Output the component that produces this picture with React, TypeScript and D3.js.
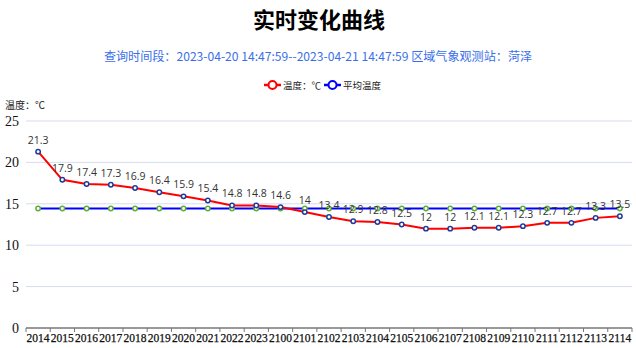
import React from 'react';
import * as d3 from 'd3';

const categories = [
  '2014', '2015', '2016', '2017', '2018', '2019', '2020', '2021', '2022', '2023',
  '2100', '2101', '2102', '2103', '2104', '2105', '2106', '2107', '2108', '2109',
  '2110', '2111', '2112', '2113', '2114',
];
const temps = [
  21.3, 17.9, 17.4, 17.3, 16.9, 16.4, 15.9, 15.4, 14.8, 14.8,
  14.6, 14, 13.4, 12.9, 12.8, 12.5, 12, 12, 12.1, 12.1,
  12.3, 12.7, 12.7, 13.3, 13.5,
];
const avgTemps = [
  14.44, 14.44, 14.44, 14.44, 14.44, 14.44, 14.44, 14.44, 14.44, 14.44,
  14.44, 14.44, 14.44, 14.44, 14.44, 14.44, 14.44, 14.44, 14.44, 14.44,
  14.44, 14.44, 14.44, 14.44, 14.44,
];
const yTicks = [0, 5, 10, 15, 20, 25];

const W = 636;
const H = 348;
const left = 26;
const right = 632;
const top = 121;
const bottom = 328;

const cjk = '"Noto Sans CJK SC", sans-serif';
const serif = '"Liberation Serif", "DejaVu Serif", serif';

export default function App() {
  const x = d3.scaleBand().domain(categories).range([left, right]);
  const y = d3.scaleLinear().domain([0, 25]).range([bottom, top]);
  const cx = (c: string) => (x(c) as number) + x.bandwidth() / 2;

  const line = d3.line<number>()
    .x((_, i) => cx(categories[i]))
    .y(d => y(d));

  return (
    <svg width={W} height={H} style={{ position: 'absolute', left: 0, top: 0, background: '#fff' }}>
      <text x={319} y={28} textAnchor="middle" fontFamily={cjk} fontWeight="bold" fontSize={22} fill="#000">
        实时变化曲线
      </text>
      <text x={318} y={61} textAnchor="middle" fontFamily={cjk} fontSize={12.1} fill="#3a6fe8">
        查询时间段：2023-04-20 14:47:59--2023-04-21 14:47:59 区域气象观测站：菏泽
      </text>

      {/* legend */}
      <g fontFamily={cjk} fontSize={9.5} fill="#222">
        <line x1={264} x2={281} y1={85} y2={85} stroke="#ff0000" strokeWidth={2.5} />
        <circle cx={272.5} cy={85} r={4} fill="#fff" stroke="#ff0000" strokeWidth={2} />
        <text x={283} y={89}>温度：℃</text>
        <line x1={324} x2={341} y1={85} y2={85} stroke="#0000ff" strokeWidth={2.5} />
        <circle cx={332.5} cy={85} r={4} fill="#fff" stroke="#0000ff" strokeWidth={2} />
        <text x={343} y={89}>平均温度</text>
      </g>

      <text x={5} y={109} fontFamily={cjk} fontSize={10} fill="#222">温度：℃</text>

      {/* grid + y labels */}
      {yTicks.map(t => (
        <g key={t}>
          {t > 0 && <line x1={left} x2={right} y1={y(t)} y2={y(t)} stroke="#d6dcf0" strokeWidth={1} />}
          <text x={19} y={y(t) + 5} textAnchor="end" fontFamily={serif} fontSize={14} fill="#111">{t}</text>
        </g>
      ))}

      {/* x axis */}
      <line x1={left} x2={right} y1={bottom} y2={bottom} stroke="#777" strokeWidth={1.5} />
      {categories.map(c => (
        <line key={'t' + c} x1={x(c) as number} x2={x(c) as number} y1={bottom} y2={bottom + 4} stroke="#777" />
      ))}
      <line x1={right} x2={right} y1={bottom} y2={bottom + 4} stroke="#777" />
      {categories.map(c => (
        <text key={'l' + c} x={cx(c)} y={bottom + 14} textAnchor="middle" fontFamily={serif} fontSize={11.5} fill="#111" stroke="#111" strokeWidth={0.25}>
          {c}
        </text>
      ))}

      {/* average line */}
      <path d={line(avgTemps) ?? ''} fill="none" stroke="#0000ff" strokeWidth={2} />
      {avgTemps.map((v, i) => (
        <circle key={'a' + i} cx={cx(categories[i])} cy={y(v)} r={2.2} fill="#fff" stroke="#5fae3a" strokeWidth={1.5} />
      ))}

      {/* temperature line */}
      <path d={line(temps) ?? ''} fill="none" stroke="#ff0000" strokeWidth={2} />
      {temps.map((v, i) => (
        <circle key={'p' + i} cx={cx(categories[i])} cy={y(v)} r={2.2} fill="#fff" stroke="#1f3a9a" strokeWidth={1.5} />
      ))}
      {temps.map((v, i) => (
        <text key={'v' + i} x={cx(categories[i])} y={y(v) - 8} textAnchor="middle" fontFamily={'"Open Sans", "Noto Sans", sans-serif'} fontSize={10.5} fill="#333">
          {v}
        </text>
      ))}
    </svg>
  );
}
